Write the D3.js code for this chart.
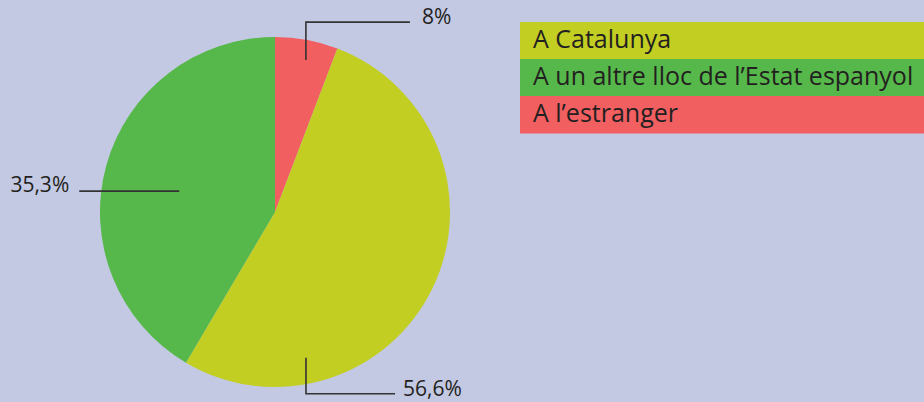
<!DOCTYPE html>
<html>
<head>
<meta charset="utf-8">
<script src="https://cdn.jsdelivr.net/npm/d3@7"></script>
<style>
  html, body { margin: 0; padding: 0; background: #c3c9e3; }
  svg { display: block; }
  text { font-family: "Open Sans", sans-serif; fill: #231f20; }
</style>
</head>
<body>
<svg id="chart"></svg>
<script>
// categories and values as printed on the chart
const categories = ['A Catalunya', 'A un altre lloc de l\u2019Estat espanyol', 'A l\u2019estranger']
const labels = ['56,6%', '35,3%', '8%']
// share of the circle each slice actually covers in the picture (slightly off the printed labels)
const sliceShares = [52.7, 41.5, 5.8]
const colors = ['#c2ce22', '#56b84b', '#f25f60']

const W = 924, H = 402
const CX = 275, CY = 212, R = 175

const svg = d3.select('#chart').attr('width', W).attr('height', H)

// pie drawn clockwise from 12 o'clock: red first, then yellow, then green
const order = [2, 0, 1]
const pie = d3.pie().sort(null).value(i => sliceShares[i])
const arcs = pie(order)
const arc = d3.arc().innerRadius(0).outerRadius(R)

const g = svg.append('g').attr('transform', `translate(${CX},${CY})`)

g.selectAll('path')
  .data(arcs)
  .enter()
  .append('path')
  .attr('d', arc)
  .attr('fill', d => colors[d.data])

// leader lines: anchor in polar coords inside the slice, then an elbow to the label
const leaders = [
  { idx: 2, ang: 11.5, r: 155, path: [[0, -38], [104, 0]], tx: 12, ty: 2, anchor: 'start' },
  { idx: 0, ang: 168.0, r: 149, path: [[0, 36], [89, 0]], tx: 8, ty: 2, anchor: 'start' },
  { idx: 1, ang: 282.3, r: 98, path: [[-100, 0]], tx: -10, ty: 0.5, anchor: 'end' }
]

const polar = (ang, r) => {
  const a = ang * Math.PI / 180
  return [r * Math.sin(a), -r * Math.cos(a)]
}

leaders.forEach(l => {
  let [x, y] = polar(l.ang, l.r)
  const pts = [[x, y]]
  l.path.forEach(([dx, dy]) => { x += dx; y += dy; pts.push([x, y]) })
  g.append('path')
    .attr('d', d3.line()(pts))
    .attr('fill', 'none')
    .attr('stroke', '#333')
    .attr('stroke-width', 1.6)
  g.append('text')
    .attr('x', x + l.tx)
    .attr('y', y + l.ty)
    .attr('text-anchor', l.anchor)
    .style('font-size', '21px')
    .text(labels[l.idx])
})

// legend as stacked coloured bands
const legend = svg.append('g').attr('transform', 'translate(520,22)')
const rowH = 37

const rows = legend.selectAll('g')
  .data(categories)
  .enter()
  .append('g')
  .attr('transform', (d, i) => `translate(0, ${i * rowH})`)

rows.append('rect')
  .attr('width', W - 520)
  .attr('height', rowH + 0.5)
  .attr('fill', (d, i) => colors[i])

rows.append('text')
  .attr('x', 13)
  .attr('y', 26)
  .style('font-size', '25px')
  .text(d => d)
</script>
</body>
</html>
